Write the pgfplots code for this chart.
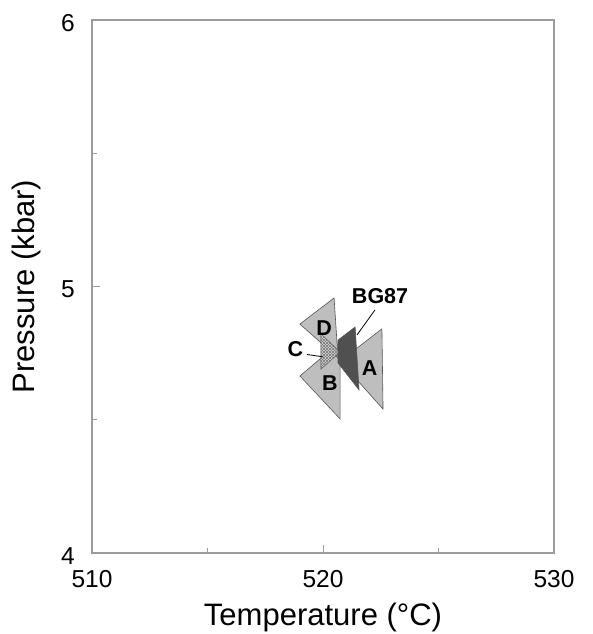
\documentclass[border=0pt]{standalone}
\usepackage{fontspec}
\setmainfont{Liberation Sans}
\usepackage{pgfplots}
\pgfplotsset{compat=1.18}
\usetikzlibrary{patterns}
\definecolor{axgray}{RGB}{155,155,155}
\definecolor{trifill}{RGB}{190,190,190}
\definecolor{triedge}{RGB}{85,85,85}
\definecolor{bgfill}{RGB}{80,80,80}
\definecolor{cfill}{RGB}{215,215,215}
\begin{document}
\begin{tikzpicture}
\path[use as bounding box] (-92pt,-81pt) rectangle (501pt,553pt);
\begin{axis}[
  scale only axis, width=462pt, height=533pt,
  xmin=510, xmax=530, ymin=4, ymax=6,
  xtick={510,520,530}, minor xtick={515,525},
  ytick={4,5,6}, minor ytick={4.5,5.5},
  tick pos=left, tick align=inside,
  major tick length=8pt, minor tick length=5pt,
  axis line style={axgray, line width=1.2pt},
  every tick/.style={axgray, line width=1pt},
  ticklabel style={font=\fontsize{24.5}{28}\selectfont, inner sep=0pt},
  xticklabel style={yshift=-17pt},
  yticklabel style={xshift=-17pt, yshift=-3pt},
  /pgf/number format/assume math mode=true,
  /pgf/number format/1000 sep={},
]
% A
\addplot[fill=trifill, draw=triedge, line width=0.6pt, no markers]
  coordinates {(522.55,4.841) (522.60,4.540) (520.74,4.720)} -- cycle;
% B
\addplot[fill=trifill, draw=triedge, line width=0.6pt, no markers]
  coordinates {(519.00,4.664) (520.74,4.792) (520.74,4.503)} -- cycle;
% D
\addplot[fill=trifill, draw=triedge, line width=0.6pt, no markers]
  coordinates {(520.48,4.957) (519.00,4.859) (520.65,4.732)} -- cycle;
% C
\addplot[fill=cfill, draw=triedge, line width=0.5pt, no markers]
  coordinates {(519.91,4.822) (519.91,4.690) (520.74,4.754)} -- cycle;
\addplot[pattern=north east lines, pattern color=triedge!80, draw=none, no markers]
  coordinates {(519.91,4.822) (519.91,4.690) (520.74,4.754)} -- cycle;
\addplot[pattern=north west lines, pattern color=triedge!80, draw=none, no markers]
  coordinates {(519.91,4.822) (519.91,4.690) (520.74,4.754)} -- cycle;
% BG87
\addplot[fill=bgfill, draw=triedge, line width=0.6pt, no markers]
  coordinates {(520.65,4.799) (521.39,4.848) (521.56,4.612) (520.65,4.713)} -- cycle;
% labels
\node[font=\fontsize{21.5}{24}\selectfont\bfseries] at (axis cs:522.47,4.964) {BG87};
\draw[black, line width=0.8pt] (axis cs:522.25,4.912) -- (axis cs:521.47,4.818);
\node[font=\fontsize{21.5}{24}\selectfont\bfseries] at (axis cs:520.05,4.844) {D};
\node[font=\fontsize{21.5}{24}\selectfont\bfseries] at (axis cs:518.80,4.764) {C};
\draw[black, line width=0.8pt] (axis cs:519.30,4.745) -- (axis cs:520.0,4.736);
\node[font=\fontsize{21.5}{24}\selectfont\bfseries] at (axis cs:520.30,4.638) {B};
\node[font=\fontsize{21.5}{24}\selectfont\bfseries] at (axis cs:522.02,4.694) {A};
\end{axis}
\node[anchor=base, font=\fontsize{31}{36}\selectfont] at (231pt,-72pt) {Temperature (°C)};
\node[anchor=base, rotate=90, font=\fontsize{31}{36}\selectfont] at (-57pt,266.5pt) {Pressure (kbar)};
\end{tikzpicture}
\end{document}
